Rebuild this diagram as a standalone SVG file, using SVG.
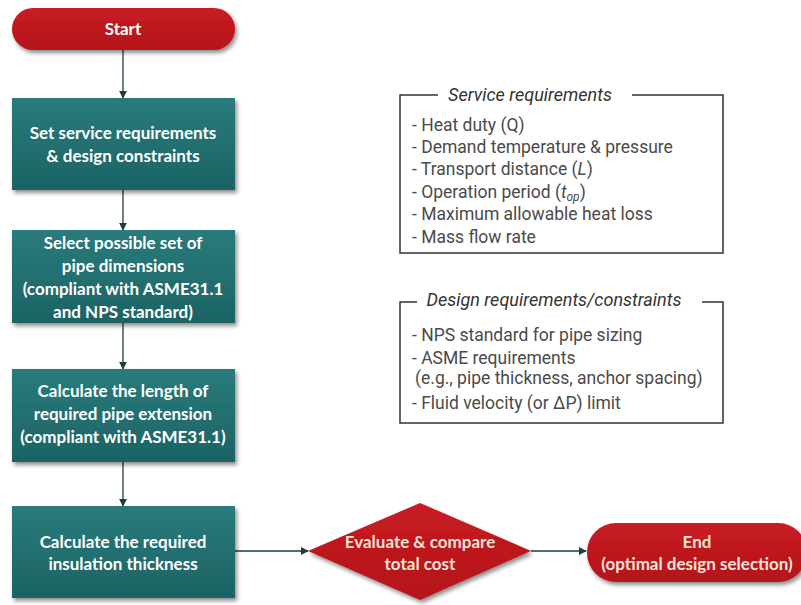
<svg xmlns="http://www.w3.org/2000/svg" width="801" height="605" viewBox="0 0 801 605">
<defs>
<filter id="sh" x="-10%" y="-10%" width="125%" height="130%">
<feGaussianBlur in="SourceAlpha" stdDeviation="2"/>
<feOffset dx="1.5" dy="2.5" result="o"/>
<feComponentTransfer><feFuncA type="linear" slope="0.45"/></feComponentTransfer>
<feMerge><feMergeNode/><feMergeNode in="SourceGraphic"/></feMerge>
</filter>
<linearGradient id="teal" x1="0" y1="0" x2="0" y2="1">
<stop offset="0" stop-color="#2a7b7c"/>
<stop offset="1" stop-color="#1c6364"/>
</linearGradient>
<linearGradient id="red" x1="0" y1="0" x2="0" y2="1">
<stop offset="0" stop-color="#c81d22"/>
<stop offset="1" stop-color="#b3121a"/>
</linearGradient>
<marker id="ah" viewBox="0 0 10 10" refX="9" refY="5" markerWidth="8" markerHeight="8" markerUnits="userSpaceOnUse" orient="auto">
<path d="M0,0 L10,5 L0,10 z" fill="#1f3d3d"/>
</marker>
<style>
.box{fill:url(#teal);filter:url(#sh)}
.term{fill:url(#red);filter:url(#sh)}
.t{font-family:Lato,"Open Sans","Liberation Sans",sans-serif;font-weight:bold;font-size:17px;fill:#ffffff;text-anchor:middle}
.tr{fill:#f6e4d8}
.c{stroke:#1f3d3d;stroke-width:1.3;fill:none;marker-end:url(#ah)}
.frame{fill:none;stroke:#333333;stroke-width:1.5}
.h{font-family:Roboto,"Liberation Sans",sans-serif;font-style:italic;font-size:18px;fill:#333333}
.i{font-family:Roboto,"Liberation Sans",sans-serif;font-size:17.5px;fill:#4a4a4a}
</style>
</defs>
<rect width="801" height="605" fill="#ffffff"/>

<g id="connectors">
<line class="c" x1="123" y1="50" x2="123" y2="98"/>
<line class="c" x1="123" y1="190" x2="123" y2="230"/>
<line class="c" x1="123" y1="323" x2="123" y2="369"/>
<line class="c" x1="123" y1="462" x2="123" y2="506"/>
<line class="c" x1="235" y1="551" x2="308" y2="551"/>
<line class="c" x1="531" y1="551" x2="586" y2="551"/>
</g>

<g id="start">
<rect class="term" x="12" y="8" width="223" height="42" rx="21"/>
<text class="t" x="123" y="35">Start</text>
</g>

<g id="step1">
<rect class="box" x="12" y="98" width="223" height="92"/>
<text class="t" x="123" y="139">Set service requirements</text>
<text class="t" x="123" y="162">&amp; design constraints</text>
</g>

<g id="step2">
<rect class="box" x="12" y="230" width="223" height="93"/>
<text class="t" x="123" y="249">Select possible set of</text>
<text class="t" x="123" y="272">pipe dimensions</text>
<text class="t" x="123" y="295">(compliant with ASME31.1</text>
<text class="t" x="123" y="318">and NPS standard)</text>
</g>

<g id="step3">
<rect class="box" x="12" y="369" width="223" height="93"/>
<text class="t" x="123" y="397">Calculate the length of</text>
<text class="t" x="123" y="420">required pipe extension</text>
<text class="t" x="123" y="443">(compliant with ASME31.1)</text>
</g>

<g id="step4">
<rect class="box" x="12" y="506" width="223" height="92"/>
<text class="t" x="123" y="548">Calculate the required</text>
<text class="t" x="123" y="570">insulation thickness</text>
</g>

<g id="decision">
<polygon class="term" points="420,503 531,551 420,600 308,551"/>
<text class="t tr" x="420" y="548">Evaluate &amp; compare</text>
<text class="t tr" x="420" y="570">total cost</text>
</g>

<g id="end">
<rect class="term" x="587" y="523" width="220" height="59" rx="29"/>
<text class="t tr" x="697" y="548">End</text>
<text class="t tr" x="697" y="570">(optimal design selection)</text>
</g>

<g id="service">
<path class="frame" d="M438,95 H400 V253 H723 V95 H632"/>
<text class="h" x="530" y="101" text-anchor="middle">Service requirements</text>
<text class="i" x="412" y="131">- Heat duty (Q)</text>
<text class="i" x="412" y="153">- Demand temperature &amp; pressure</text>
<text class="i" x="412" y="175">- Transport distance (<tspan font-style="italic">L</tspan>)</text>
<text class="i" x="412" y="198">- Operation period (<tspan font-style="italic">t</tspan><tspan font-style="italic" font-size="12px" dy="3">op</tspan><tspan dy="-3">)</tspan></text>
<text class="i" x="412" y="220">- Maximum allowable heat loss</text>
<text class="i" x="412" y="243">- Mass flow rate</text>
</g>

<g id="design">
<path class="frame" d="M417,302 H400 V423 H723 V302 H702"/>
<text class="h" x="554" y="306" text-anchor="middle">Design requirements/constraints</text>
<text class="i" x="412" y="341">- NPS standard for pipe sizing</text>
<text class="i" x="412" y="364">- ASME requirements</text>
<text class="i" x="415" y="384">(e.g., pipe thickness, anchor spacing)</text>
<text class="i" x="412" y="409">- Fluid velocity (or ΔP) limit</text>
</g>
</svg>
